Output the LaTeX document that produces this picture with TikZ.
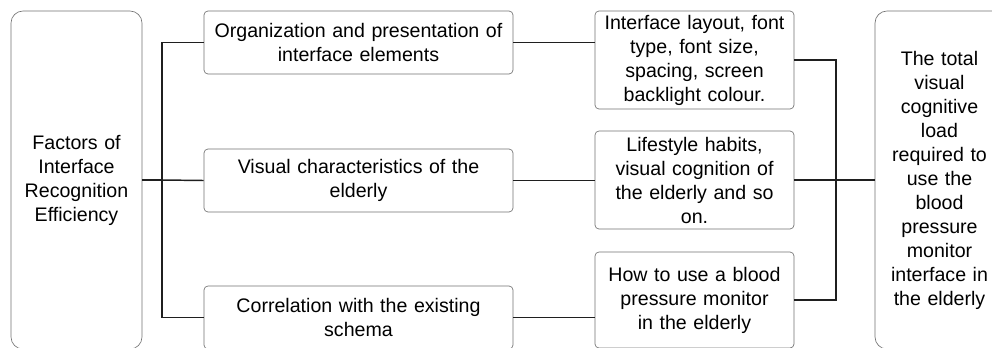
\documentclass[tikz,border=0pt]{standalone}
\usepackage{fontspec}
\setmainfont{Liberation Sans}
\begin{document}
\begin{tikzpicture}[x=0.75pt,y=-0.75pt,
  box/.style={draw=black!55,line width=0.5pt,rounded corners=3pt,align=center,inner sep=0pt,
    font=\fontsize{14.7}{18}\selectfont},
  bigbox/.style={box,rounded corners=9pt},
  link/.style={draw=black!88,line width=1.1pt}]
\clip (0,0) rectangle (992,347);
\fill[white] (0,0) rectangle (992,347);
\node[bigbox,minimum width=98.25pt,minimum height=253.5pt,text width=92pt] (L) at (76.5,180)
  {Factors of\\Interface\\Recognition\\Efficiency};
\node[box,minimum width=231.75pt,minimum height=47.25pt,text width=228pt] (M1) at (358.5,42.5)
  {Organization and presentation of\\interface elements};
\node[box,minimum width=231.75pt,minimum height=47.25pt,text width=228pt] (M2) at (358.5,180.5)
  {Visual characteristics of the\\elderly};
\node[box,minimum width=231.75pt,minimum height=47.25pt,text width=228pt] (M3) at (358.5,317.5)
  {Correlation with the existing\\schema};
\node[box,minimum width=149.25pt,minimum height=73.5pt,text width=146pt] (R1) at (694.5,60)
  {Interface layout, font\\type, font size,\\spacing, screen\\backlight colour.};
\node[box,minimum width=149.25pt,minimum height=73.5pt,text width=146pt] (R2) at (694.5,180)
  {Lifestyle habits,\\visual cognition of\\the elderly and so\\on.};
\node[box,minimum width=149.25pt,minimum height=72pt,text width=146pt] (R3) at (694.5,300)
  {How to use a blood\\pressure monitor\\in the elderly};
\node[bigbox,minimum width=96.75pt,minimum height=253.5pt,text width=92pt] (T) at (939.5,180)
  {The total\\visual\\cognitive\\load\\required to\\use the\\blood\\pressure\\monitor\\interface in\\the elderly};
\coordinate (j1) at (162,180);
\coordinate (j2) at (836,180);
\draw[link] (L.east) -- (j1);
\draw[link] (M1.west) -| (j1) |- (M3.west);
\draw[link] (j1) -- (M2.west);
\draw[link] (M1.east) -- (M1.east -| R1.west);
\draw[link] (M2.east) -- (M2.east -| R2.west);
\draw[link] (M3.east) -- (M3.east -| R3.west);
\draw[link] (R1.east) -| (j2) |- (R3.east);
\draw[link] (R2.east) -- (T.west);
\end{tikzpicture}
\end{document}
